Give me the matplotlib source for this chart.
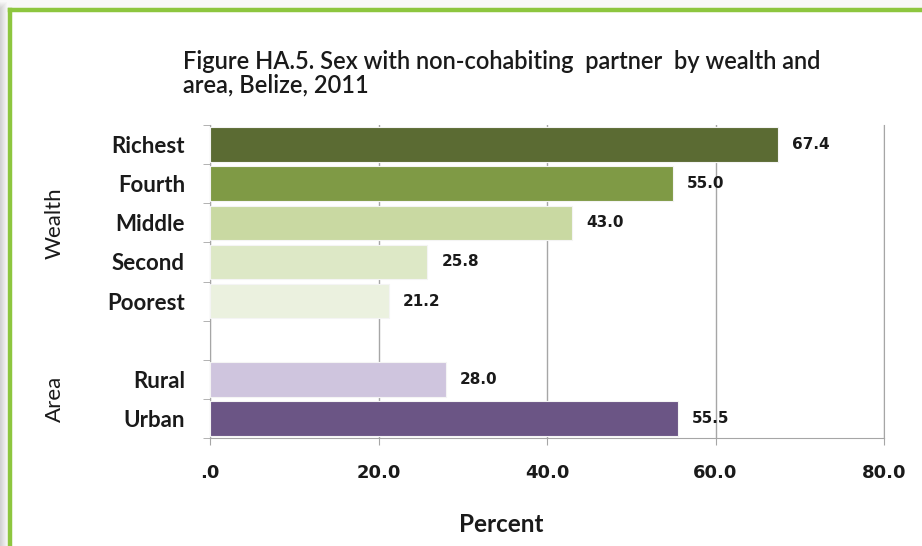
import matplotlib.pyplot as plt
from matplotlib.patches import Rectangle
from matplotlib.lines import Line2D

# ---------- DATA ----------
categories = ["Richest", "Fourth", "Middle", "Second", "Poorest", "", "Rural", "Urban"]
values = [67.4, 55.0, 43.0, 25.8, 21.2, None, 28.0, 55.5]
bar_colors = ["#5B6B33", "#7F9A45", "#C9D9A2", "#DDE8C6", "#EBF1DF", None, "#CFC5DE", "#6B5585"]
x_ticks = [0, 20, 40, 60, 80]
x_tick_labels = [".0", "20.0", "40.0", "60.0", "80.0"]
groups = [("Wealth", 0, 4), ("Area", 6, 7)]

title = "Figure HA.5. Sex with non-cohabiting  partner  by wealth and\narea, Belize, 2011"

LABEL_FONT = "Lato"
NUM_FONT = "DejaVu Sans"
GRID = "#A6A6A6"

fig = plt.figure(figsize=(9.22, 5.46), dpi=100)

# ---------- FRAME (shadow + green border) ----------
W, H = 922, 546
for i in range(8):
    g = 0.82 + i * 0.022
    fig.patches.append(Rectangle((0, (H - 8 + i) / H), 1, 1, transform=fig.transFigure,
                                 color=(g, g, g), zorder=-5))
    fig.patches.append(Rectangle((i / W, 0), 1, 1, transform=fig.transFigure,
                                 color=(g, g, g), zorder=-5))
fig.patches.append(Rectangle((12 / W, 0), 1, (H - 12) / H, transform=fig.transFigure,
                             color="white", zorder=-4))
fig.add_artist(Line2D([10 / W, 10 / W], [0, (H - 10) / H], color="#8DC63F", lw=3.2))
fig.add_artist(Line2D([10 / W, 1], [(H - 10) / H, (H - 10) / H], color="#8DC63F", lw=3.2))

# ---------- CHART ----------
ax = fig.add_axes([210 / W, 1 - 438 / H, 674 / W, 313 / H])

ypos = list(range(len(categories)))
for y, v, c in zip(ypos, values, bar_colors):
    if v is None:
        continue
    ax.barh(y, v, height=0.88, color=c, edgecolor="#F4F4F4", linewidth=0.8, zorder=3)
    ax.annotate(f"{v:.1f}", (v, y), xytext=(10, 0), textcoords="offset points",
                va="center", ha="left", fontsize=11, fontweight="bold",
                family=NUM_FONT, color="#1A1A1A", zorder=4)

ax.set_xlim(0, 80)
ax.set_ylim(len(categories) - 0.5, -0.5)

ax.set_xticks(x_ticks)
ax.set_xticklabels(x_tick_labels, fontsize=13, fontweight="bold", family=NUM_FONT, color="#1A1A1A")
ax.tick_params(axis="x", length=5, color=GRID, pad=14)

ax.set_yticks(ypos)
ax.set_yticklabels(categories, fontsize=16, fontweight="bold", family=LABEL_FONT, color="#1A1A1A")
ax.tick_params(axis="y", which="major", length=0, pad=18)
ax.set_yticks([y - 0.5 for y in range(len(categories) + 1)], minor=True)
ax.tick_params(axis="y", which="minor", length=5, color=GRID)

ax.grid(axis="x", color=GRID, linewidth=1, zorder=0)
ax.spines["top"].set_visible(False)
for s in ["left", "bottom", "right"]:
    ax.spines[s].set_color(GRID)

fig.text(501 / W, 1 - 524 / H, "Percent", ha="center", va="center", fontsize=17.5,
         fontweight="bold", family=LABEL_FONT, color="#1A1A1A")

# group labels
for name, start, end in groups:
    mid = (start + end) / 2
    ax.text(-0.23, mid, name, transform=ax.get_yaxis_transform(), rotation=90,
            ha="center", va="center", fontsize=16, family=LABEL_FONT, color="#1A1A1A")

fig.text(183 / W, 1 - 50 / H, title, ha="left", va="top", fontsize=17,
         fontweight="semibold", family=LABEL_FONT, color="#1A1A1A", linespacing=1.05)

fig.savefig("out.png", dpi=100)
